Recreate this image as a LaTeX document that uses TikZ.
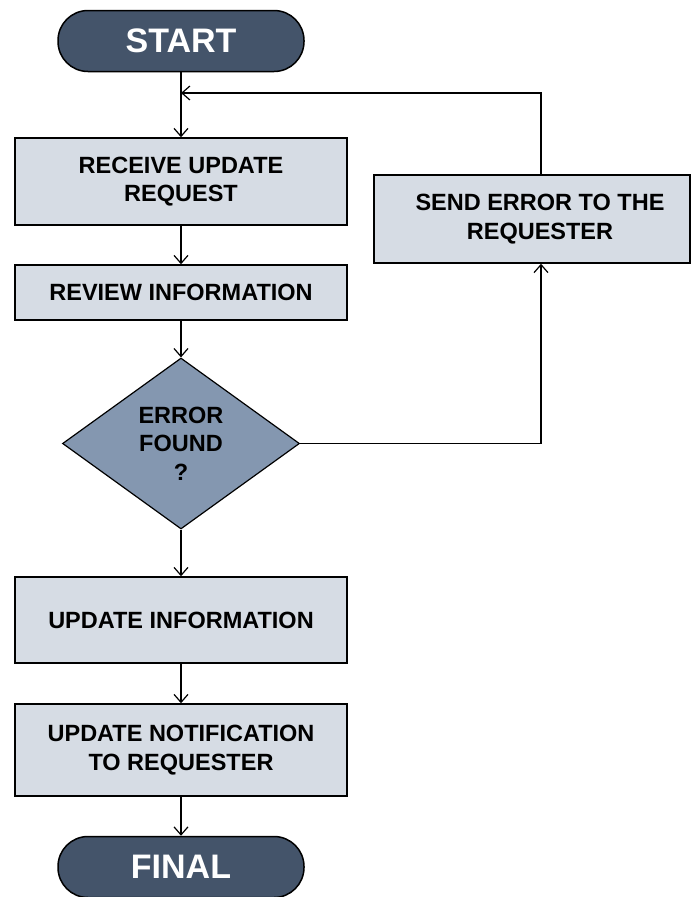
\documentclass[tikz,border=0pt]{standalone}
\usepackage{fontspec}
\setmainfont{Liberation Sans}
\usetikzlibrary{shapes.geometric,arrows.meta}

\definecolor{slatedark}{HTML}{44546A}
\definecolor{slatemid}{HTML}{8497B0}
\definecolor{slatelight}{HTML}{D6DCE4}

\tikzset{
  terminal/.style={draw=black, line width=1.5pt, fill=slatedark, rounded corners=30pt,
    minimum width=246pt, minimum height=61pt, text=white,
    font=\fontsize{34}{40}\selectfont\bfseries},
  process/.style={draw=black, line width=1.5pt, fill=slatelight, minimum width=332pt,
    align=center, font=\fontsize{23.5}{28.5}\selectfont\bfseries},
  decision/.style={diamond, draw=black, line width=1.2pt, fill=slatemid, inner sep=0pt,
    minimum width=237pt, minimum height=171pt, align=center,
    font=\fontsize{23.5}{28.5}\selectfont\bfseries},
  flow/.style={-{Straight Barb[length=8pt,width=14pt]}, line width=1.2pt}
}

\begin{document}
\begin{tikzpicture}[x=1pt, y=-1pt]
  \useasboundingbox (0,0) rectangle (691,897);

  \node[terminal] (start) at (181,41) {START};
  \node[process, minimum height=87pt] (receive) at (181,181.5) {RECEIVE UPDATE\\REQUEST};
  \node[process, minimum height=55pt] (review) at (181,292.5) {REVIEW INFORMATION};
  \node[decision] (error) at (181,443.5) {ERROR\\FOUND\\?};
  \node[process, minimum height=86pt] (update) at (181,620) {UPDATE INFORMATION};
  \node[process, minimum height=92pt] (notify) at (181,750) {UPDATE NOTIFICATION\\TO REQUESTER};
  \node[terminal] (final) at (181,867) {FINAL};
  \node[process, minimum width=316pt, minimum height=88pt] (send) at (532,219) {\hspace*{16pt}SEND ERROR TO THE\\\hspace*{16pt}REQUESTER};

  \coordinate (back) at (181,93);

  % main line
  \draw[flow] (start) -- (receive);
  \draw[flow] (receive) -- (review);
  \draw[flow] (review) -- (error);
  \draw[flow] (error) -- (update);
  \draw[flow] (update) -- (notify);
  \draw[flow] (notify) -- (final);

  % error loop
  \draw[flow] (error.east) -| ([xshift=9pt]send.south);
  \draw[flow] ([xshift=9pt]send.north) |- (back);
\end{tikzpicture}
\end{document}
